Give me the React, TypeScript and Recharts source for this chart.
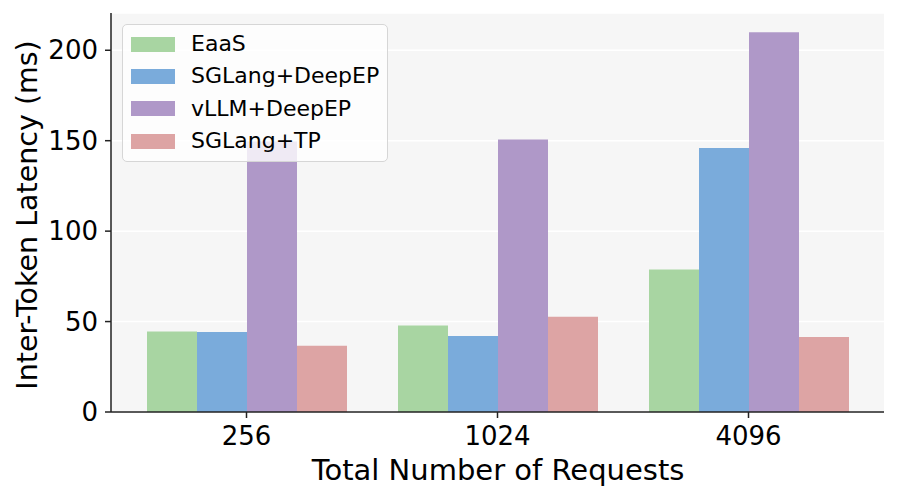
import React from 'react';
import { BarChart, Bar, XAxis, YAxis, CartesianGrid, Legend } from 'recharts';

const categories = ['256', '1024', '4096'];
const eaas = [44.5, 47.8, 78.8];
const sglangDeepEP = [44.2, 42.0, 145.9];
const vllmDeepEP = [149.6, 150.7, 210.0];
const sglangTP = [36.6, 52.6, 41.5];
const yTicks = [0, 50, 100, 150, 200];

const seriesNames = ['EaaS', 'SGLang+DeepEP', 'vLLM+DeepEP', 'SGLang+TP'];
const seriesColors = ['#a8d5a2', '#7aabdb', '#af98c8', '#dda4a4'];

const data = categories.map((c, i) => ({
  name: c,
  s0: eaas[i],
  s1: sglangDeepEP[i],
  s2: vllmDeepEP[i],
  s3: sglangTP[i],
}));

const FONT = '"DejaVu Sans", sans-serif';

const renderLegend = (props: any) => {
  const payload = [...(props.payload || [])].sort(
    (a: any, b: any) => seriesNames.indexOf(a.value) - seriesNames.indexOf(b.value)
  );
  return (
    <div
      style={{
        background: 'rgba(255,255,255,0.8)',
        border: '1px solid #d6d6d6',
        borderRadius: 5,
        padding: '3px 8px 4px 8px',
        fontFamily: FONT,
        fontSize: 22,
        color: '#000',
      }}
    >
      {payload.map((p: any, i: number) => (
        <div key={i} style={{ display: 'flex', alignItems: 'center', height: 32.3 }}>
          <span style={{ display: 'inline-block', width: 44, height: 15, background: p.color, marginRight: 16 }} />
          <span style={{ whiteSpace: 'nowrap', lineHeight: '22px' }}>{p.value}</span>
        </div>
      ))}
    </div>
  );
};

export default function App() {
  return (
    <div style={{ position: 'absolute', left: 0, top: 0, width: 897, height: 500, background: '#fff' }}>
      <BarChart
        width={897}
        height={500}
        data={data}
        margin={{ top: 13, right: 13, bottom: 0, left: 0 }}
        barGap={0}
        barSize={50}
      >
        <CartesianGrid vertical={false} stroke="#ffffff" strokeWidth={1.5} fill="#f6f6f6" />
        <XAxis
          dataKey="name"
          height={88}
          padding={{ left: 10, right: 10 }}
          tickLine={{ stroke: '#222', strokeWidth: 1.5 }}
          axisLine={{ stroke: '#222', strokeWidth: 1.5 }}
          tickSize={6}
          tickMargin={9}
          tick={{ fontSize: 26, fill: '#000', fontFamily: FONT }}
          label={{
            content: () => (
              <text x={498} y={480} textAnchor="middle" fontSize={29} fontFamily={FONT} fill="#000">
                Total Number of Requests
              </text>
            ),
          }}
        />
        <YAxis
          width={111}
          domain={[0, 220.6]}
          ticks={yTicks}
          interval={0}
          allowDataOverflow
          tickLine={{ stroke: '#222', strokeWidth: 1.5 }}
          axisLine={{ stroke: '#222', strokeWidth: 1.5 }}
          tickSize={6}
          tickMargin={7}
          tick={{ fontSize: 26, fill: '#000', fontFamily: FONT }}
          label={{
            content: () => (
              <text
                x={37}
                y={215}
                transform="rotate(-90, 37, 215)"
                textAnchor="middle"
                fontSize={28.5}
                fontFamily={FONT}
                fill="#000"
              >
                Inter-Token Latency (ms)
              </text>
            ),
          }}
        />
        <Legend
          layout="horizontal"
          verticalAlign="middle"
          align="center"
          content={renderLegend}
          wrapperStyle={{ left: 122, top: 24, width: 'auto', height: 'auto' }}
        />
        <Bar dataKey="s0" name={seriesNames[0]} fill={seriesColors[0]} isAnimationActive={false} />
        <Bar dataKey="s1" name={seriesNames[1]} fill={seriesColors[1]} isAnimationActive={false} />
        <Bar dataKey="s2" name={seriesNames[2]} fill={seriesColors[2]} isAnimationActive={false} />
        <Bar dataKey="s3" name={seriesNames[3]} fill={seriesColors[3]} isAnimationActive={false} />
      </BarChart>
    </div>
  );
}
